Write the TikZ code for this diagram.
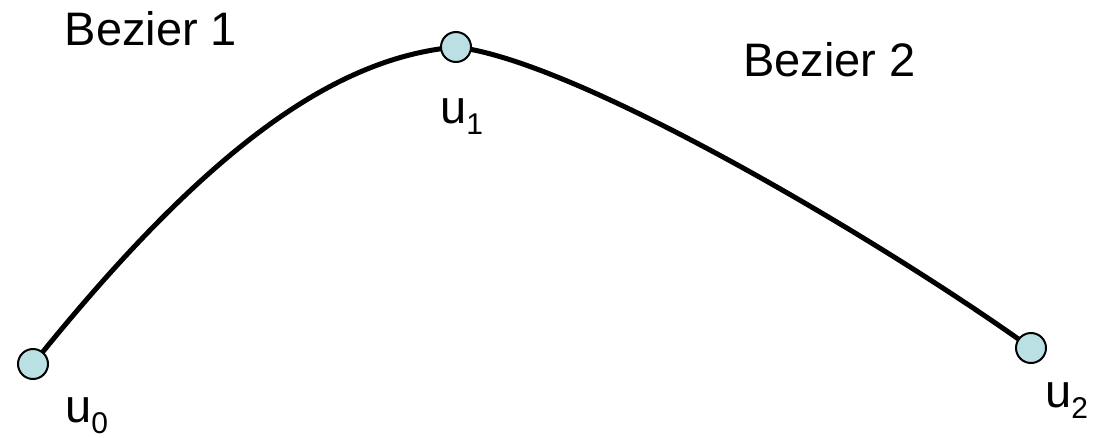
\documentclass[tikz,border=0pt]{standalone}
\usepackage{fontspec}
\setmainfont{Liberation Sans}
\usetikzlibrary{backgrounds}
\definecolor{ptfill}{RGB}{187,224,227}
\tikzset{
  knot/.style={circle, draw=black, line width=2pt, fill=ptfill, minimum size=30pt, inner sep=0pt},
  curveline/.style={line width=5pt, black},
  lbl/.style={anchor=base west, inner sep=0pt, font=\fontsize{47}{54}\selectfont},
}
\newcommand{\subsc}[1]{\raisebox{-11pt}{\fontsize{30}{30}\selectfont #1}}
\begin{document}
\begin{tikzpicture}[x=1pt,y=-1pt]
\useasboundingbox (0,0) rectangle (1093,437);
\node[knot] (u0) at (33,364) {};
\node[knot] (u1) at (456,47) {};
\node[knot] (u2) at (1031,348) {};
\begin{scope}[on background layer]
\draw[curveline] (u0.center) .. controls (205,150) and (333,58) .. (u1.center);
\draw[curveline] (u1.center) .. controls (583,62) and (895,250) .. (u2.center);
\end{scope}
\node[lbl] (b1) at (64.5,45) {Bezier 1};
\node[lbl] (b2) at (743,76) {Bezier 2};
\node[lbl] (l0) at (65,422) {u\subsc{0}};
\node[lbl] (l1) at (440,123) {u\subsc{1}};
\node[lbl] (l2) at (1045,407) {u\subsc{2}};
\end{tikzpicture}
\end{document}
